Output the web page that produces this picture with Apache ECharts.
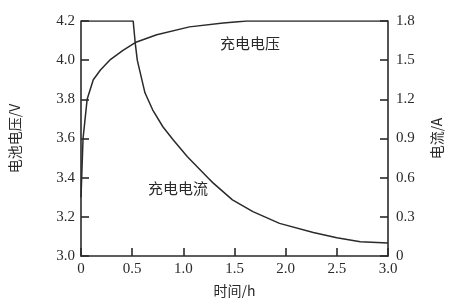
<!DOCTYPE html>
<html><head><meta charset="utf-8">
<script src="https://cdn.jsdelivr.net/npm/echarts@6/dist/echarts.min.js"></script>
<style>html,body{margin:0;padding:0;background:#fff}#c{width:449px;height:298px}</style>
</head><body><div id="c"></div>
<script>
const xTicks = [0, 0.5, 1.0, 1.5, 2.0, 2.5, 3.0];
const voltageTime = [0, 0.02, 0.06, 0.12, 0.19, 0.28, 0.41, 0.53, 0.74, 1.06, 1.39, 1.62, 3.0];
const voltageValues = [3.3, 3.6, 3.8, 3.9, 3.95, 4.0, 4.05, 4.09, 4.13, 4.17, 4.19, 4.2, 4.2];
const currentTime = [0, 0.51, 0.53, 0.55, 0.625, 0.70, 0.80, 0.90, 1.04, 1.24, 1.29, 1.48, 1.68, 1.94, 2.27, 2.50, 2.73, 3.0];
const currentValues = [1.8, 1.8, 1.63, 1.50, 1.25, 1.12, 0.99, 0.89, 0.76, 0.60, 0.56, 0.43, 0.34, 0.25, 0.18, 0.14, 0.11, 0.10];
const voltageLabel = '充电电压';
const currentLabel = '充电电流';

const serif = '"Liberation Serif", "DejaVu Serif", serif';
const cjk = '"Noto Sans CJK SC", sans-serif';
const ink = '#2a2a2a';

const chart = echarts.init(document.getElementById('c'));
const axisCommon = {
  axisLine: {show: true, lineStyle: {color: ink, width: 1.6}},
  axisTick: {show: true, inside: true, length: 8, lineStyle: {color: ink, width: 1.6}},
  splitLine: {show: false},
  axisLabel: {color: ink, fontFamily: serif, fontSize: 15, margin: 6},
  nameTextStyle: {color: ink, fontFamily: cjk, fontSize: 14}
};
chart.setOption({
  animation: false,
  backgroundColor: '#fff',
  grid: {left: 81, right: 61, top: 21, bottom: 42, containLabel: false, outerBoundsMode: 'none'},
  xAxis: Object.assign({}, axisCommon, {
    type: 'value', min: 0, max: 3.0, interval: 0.5,
    name: '时间/h', nameLocation: 'middle', nameGap: 28,
    axisLabel: Object.assign({}, axisCommon.axisLabel, {
      formatter: v => v === 0 ? '0' : v.toFixed(1)
    })
  }),
  yAxis: [
    Object.assign({}, axisCommon, {
      type: 'value', min: 3.0, max: 4.2, interval: 0.2, position: 'left',
      name: '电池电压/V', nameLocation: 'middle', nameGap: 59, nameRotate: 90,
      axisLabel: Object.assign({}, axisCommon.axisLabel, {formatter: v => v.toFixed(1)})
    }),
    Object.assign({}, axisCommon, {
      type: 'value', min: 0, max: 1.8, interval: 0.3, position: 'right',
      name: '电流/A', nameLocation: 'middle', nameGap: 42, nameRotate: 90,
      axisLabel: Object.assign({}, axisCommon.axisLabel, {margin: 8, formatter: v => v === 0 ? '0' : v.toFixed(1)})
    })
  ],
  series: [
    {type: 'line', yAxisIndex: 0, symbol: 'none', smooth: false,
     lineStyle: {color: ink, width: 1.5},
     data: voltageTime.map((t, i) => [t, voltageValues[i]])},
    {type: 'line', yAxisIndex: 1, symbol: 'none', smooth: false,
     lineStyle: {color: ink, width: 1.5},
     data: currentTime.map((t, i) => [t, currentValues[i]])}
  ],
  graphic: [
    {type: 'text', left: 220, top: 36, style: {text: voltageLabel, fill: ink, font: '15px ' + cjk}},
    {type: 'text', left: 148, top: 181, style: {text: currentLabel, fill: ink, font: '15px ' + cjk}}
  ]
});
</script></body></html>
